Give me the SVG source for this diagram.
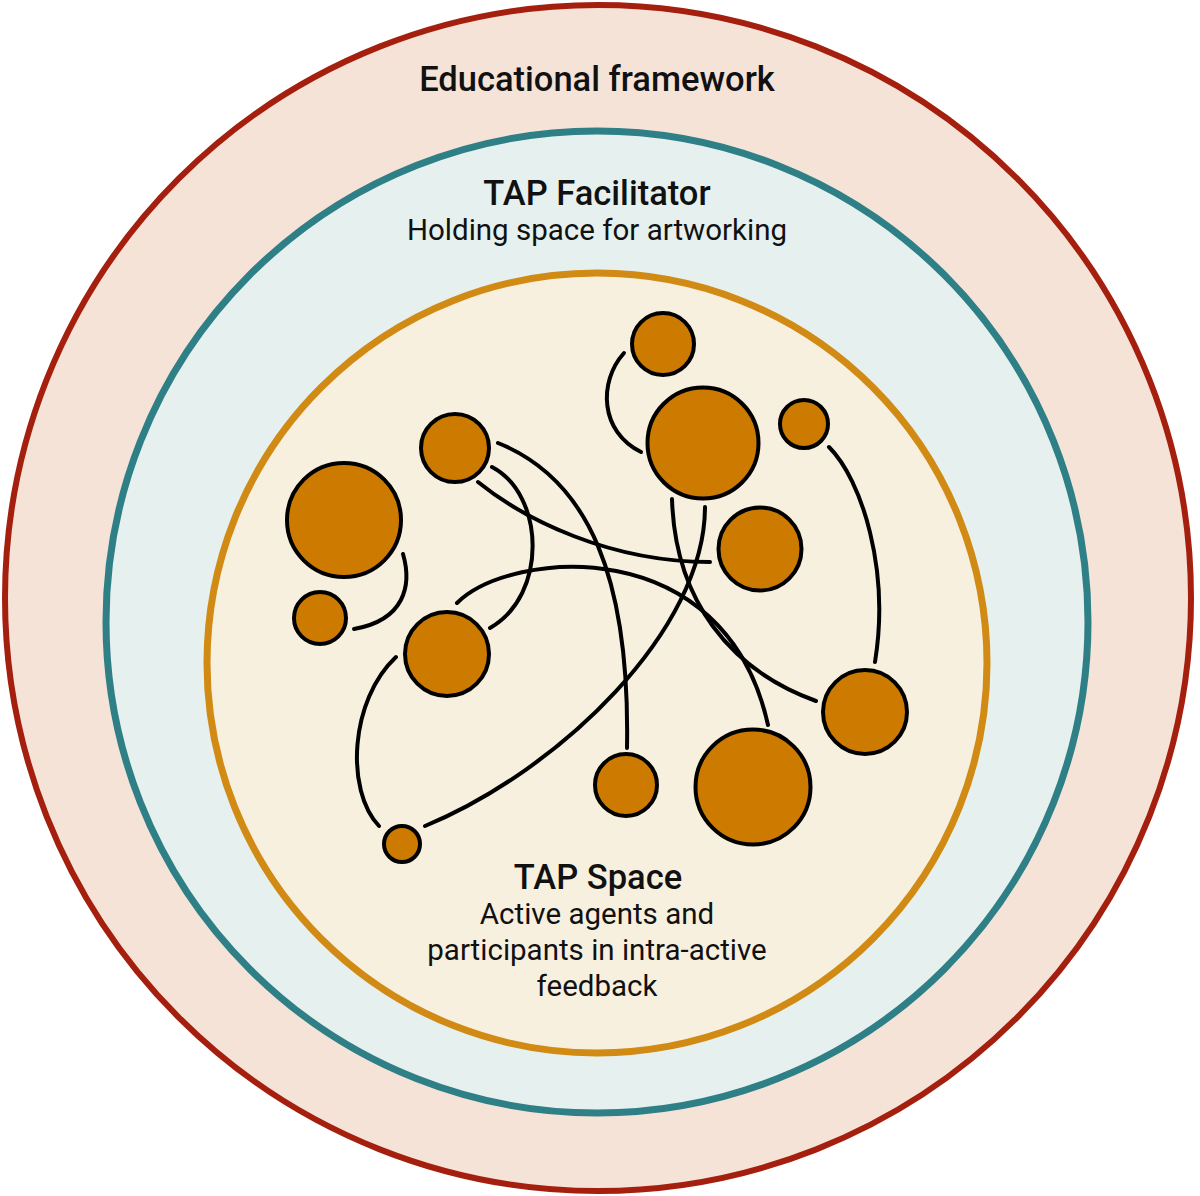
<svg xmlns="http://www.w3.org/2000/svg" width="1200" height="1196" viewBox="0 0 1200 1196">
<style>
.node{fill:#cd7b00;stroke:#000;stroke-width:4}
.conn{fill:none;stroke:#000;stroke-width:4;stroke-linecap:round}
.title{font-family:Roboto,"Liberation Sans",sans-serif;font-weight:500;font-size:34.5px;fill:#111;text-anchor:middle}
.sub{font-family:Roboto,"Liberation Sans",sans-serif;font-weight:400;font-size:29.5px;fill:#111;text-anchor:middle}
</style>
<rect width="1200" height="1196" fill="#fff"/>
<g id="ring-educational">
<circle cx="598" cy="598" r="593" fill="#f5e3d8" stroke="#a51f0e" stroke-width="6"/>
<text class="title" x="597" y="91">Educational framework</text>
</g>
<g id="ring-facilitator">
<circle cx="597" cy="622" r="491" fill="#e6f0ef" stroke="#2e7f86" stroke-width="7"/>
<text class="title" x="597" y="205">TAP Facilitator</text>
<text class="sub" x="597" y="240">Holding space for artworking</text>
</g>
<g id="ring-space">
<circle cx="597" cy="663" r="390" fill="#f8f0df" stroke="#d18a14" stroke-width="7"/>
<text class="title" x="598" y="889">TAP Space</text>
<text class="sub" x="597" y="924">Active agents and</text>
<text class="sub" x="597" y="960">participants in intra-active</text>
<text class="sub" x="597" y="996">feedback</text>
</g>
<g id="connectors">
<path class="conn" d="M624,353 C598,382 600,432 641,452"/>
<path class="conn" d="M829,447 C862,480 890,570 875,662"/>
<path class="conn" d="M403,554 C412,585 405,620 354,629"/>
<path class="conn" d="M396,657 C350,700 345,790 379,826"/>
<path class="conn" d="M425,826 C560,770 705,630 705,507"/>
<path class="conn" d="M492,467 C545,495 548,595 490,628"/>
<path class="conn" d="M478,482 C525,520 610,562 710,562"/>
<path class="conn" d="M498,443 C590,480 630,580 627,748"/>
<path class="conn" d="M457,603 C510,550 725,530 768,725"/>
<path class="conn" d="M672,499 C675,600 730,670 816,701"/>
</g>
<g id="n1"><circle class="node" cx="663" cy="344" r="31"/></g>
<g id="n2"><circle class="node" cx="703" cy="443" r="55.5"/></g>
<g id="n3"><circle class="node" cx="804" cy="424" r="24"/></g>
<g id="n4"><circle class="node" cx="455" cy="448" r="34"/></g>
<g id="n5"><circle class="node" cx="344" cy="520" r="57"/></g>
<g id="n6"><circle class="node" cx="760" cy="549" r="41.5"/></g>
<g id="n7"><circle class="node" cx="320" cy="618" r="26"/></g>
<g id="n8"><circle class="node" cx="447" cy="654" r="42"/></g>
<g id="n9"><circle class="node" cx="865" cy="712" r="42"/></g>
<g id="n10"><circle class="node" cx="626" cy="785" r="31"/></g>
<g id="n11"><circle class="node" cx="753" cy="787" r="57.5"/></g>
<g id="n12"><circle class="node" cx="402" cy="844" r="18"/></g>
</svg>
